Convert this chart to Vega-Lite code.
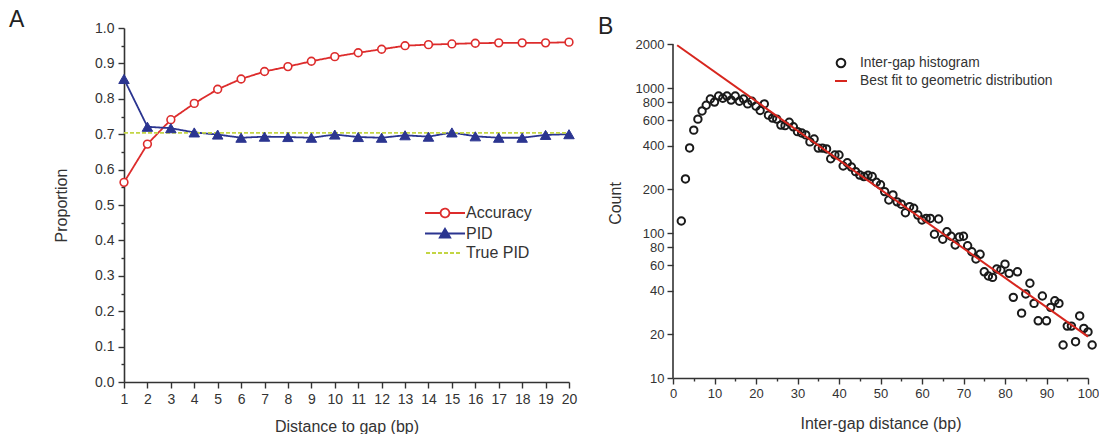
{
  "$schema": "https://vega.github.io/schema/vega-lite/v6.json",
  "padding": {"left": 9, "top": 9, "right": 0, "bottom": 0},
  "config": {
    "view": {"stroke": null},
    "font": "Liberation Sans",
    "axis": {"grid": false, "labelFlush": false, "domainColor": "#333", "domainWidth": 1.6, "tickColor": "#333", "tickWidth": 1.4, "labelFont": "Liberation Sans", "labelFontSize": 14, "labelColor": "#333", "titleFont": "Liberation Sans", "titleFontSize": 16, "titleFontWeight": "normal", "titleColor": "#333"},
    "legend": {"labelFont": "Liberation Sans", "labelColor": "#333", "title": null, "labelLimit": 400},
    "title": {"font": "Liberation Sans", "fontSize": 23, "fontWeight": "normal", "color": "#222", "anchor": "start", "frame": "group"},
    "concat": {"spacing": 21}
  },
  "resolve": {"scale": {"color": "independent", "strokeDash": "independent"}, "legend": {"color": "independent"}},
  "datasets": {
    "a": [
      {"d": 1, "series": "Accuracy", "value": 0.564}, {"d": 2, "series": "Accuracy", "value": 0.672}, {"d": 3, "series": "Accuracy", "value": 0.741}, {"d": 4, "series": "Accuracy", "value": 0.787}, {"d": 5, "series": "Accuracy", "value": 0.827}, {"d": 6, "series": "Accuracy", "value": 0.856}, {"d": 7, "series": "Accuracy", "value": 0.877}, {"d": 8, "series": "Accuracy", "value": 0.891}, {"d": 9, "series": "Accuracy", "value": 0.906}, {"d": 10, "series": "Accuracy", "value": 0.919}, {"d": 11, "series": "Accuracy", "value": 0.930}, {"d": 12, "series": "Accuracy", "value": 0.940}, {"d": 13, "series": "Accuracy", "value": 0.950}, {"d": 14, "series": "Accuracy", "value": 0.953}, {"d": 15, "series": "Accuracy", "value": 0.955}, {"d": 16, "series": "Accuracy", "value": 0.957}, {"d": 17, "series": "Accuracy", "value": 0.958}, {"d": 18, "series": "Accuracy", "value": 0.958}, {"d": 19, "series": "Accuracy", "value": 0.958}, {"d": 20, "series": "Accuracy", "value": 0.960},
      {"d": 1, "series": "PID", "value": 0.856}, {"d": 2, "series": "PID", "value": 0.721}, {"d": 3, "series": "PID", "value": 0.717}, {"d": 4, "series": "PID", "value": 0.705}, {"d": 5, "series": "PID", "value": 0.699}, {"d": 6, "series": "PID", "value": 0.690}, {"d": 7, "series": "PID", "value": 0.693}, {"d": 8, "series": "PID", "value": 0.692}, {"d": 9, "series": "PID", "value": 0.690}, {"d": 10, "series": "PID", "value": 0.699}, {"d": 11, "series": "PID", "value": 0.692}, {"d": 12, "series": "PID", "value": 0.690}, {"d": 13, "series": "PID", "value": 0.697}, {"d": 14, "series": "PID", "value": 0.693}, {"d": 15, "series": "PID", "value": 0.705}, {"d": 16, "series": "PID", "value": 0.694}, {"d": 17, "series": "PID", "value": 0.690}, {"d": 18, "series": "PID", "value": 0.690}, {"d": 19, "series": "PID", "value": 0.698}, {"d": 20, "series": "PID", "value": 0.700},
      {"d": 1, "series": "True PID", "value": 0.704}, {"d": 20, "series": "True PID", "value": 0.704}
    ],
    "hist": [
      {"x": 2, "count": 121}, {"x": 3, "count": 236}, {"x": 4, "count": 386}, {"x": 5, "count": 512}, {"x": 6, "count": 610}, {"x": 7, "count": 695}, {"x": 8, "count": 760}, {"x": 9, "count": 840}, {"x": 10, "count": 800}, {"x": 11, "count": 880},
      {"x": 12, "count": 850}, {"x": 13, "count": 880}, {"x": 14, "count": 825}, {"x": 15, "count": 880}, {"x": 16, "count": 810}, {"x": 17, "count": 840}, {"x": 18, "count": 777}, {"x": 19, "count": 810}, {"x": 20, "count": 750}, {"x": 21, "count": 700},
      {"x": 22, "count": 777}, {"x": 23, "count": 650}, {"x": 24, "count": 620}, {"x": 25, "count": 610}, {"x": 26, "count": 555}, {"x": 27, "count": 550}, {"x": 28, "count": 580}, {"x": 29, "count": 540}, {"x": 30, "count": 500}, {"x": 31, "count": 490},
      {"x": 32, "count": 475}, {"x": 33, "count": 425}, {"x": 34, "count": 445}, {"x": 35, "count": 385}, {"x": 36, "count": 385}, {"x": 37, "count": 380}, {"x": 38, "count": 325}, {"x": 39, "count": 345}, {"x": 40, "count": 345}, {"x": 41, "count": 290},
      {"x": 42, "count": 305}, {"x": 43, "count": 285}, {"x": 44, "count": 265}, {"x": 45, "count": 251}, {"x": 46, "count": 245}, {"x": 47, "count": 250}, {"x": 48, "count": 245}, {"x": 49, "count": 224}, {"x": 50, "count": 215}, {"x": 51, "count": 193},
      {"x": 52, "count": 169}, {"x": 53, "count": 183}, {"x": 54, "count": 164}, {"x": 55, "count": 158}, {"x": 56, "count": 138}, {"x": 57, "count": 152}, {"x": 58, "count": 148}, {"x": 59, "count": 133}, {"x": 60, "count": 123}, {"x": 61, "count": 126},
      {"x": 62, "count": 126}, {"x": 63, "count": 98}, {"x": 64, "count": 125}, {"x": 65, "count": 90.6}, {"x": 66, "count": 102}, {"x": 67, "count": 95}, {"x": 68, "count": 82.6}, {"x": 69, "count": 94}, {"x": 70, "count": 95}, {"x": 71, "count": 81.7},
      {"x": 72, "count": 74.3}, {"x": 73, "count": 66.2}, {"x": 74, "count": 71.3}, {"x": 75, "count": 54}, {"x": 76, "count": 50.5}, {"x": 77, "count": 49.4}, {"x": 78, "count": 56.4}, {"x": 79, "count": 55.6}, {"x": 80, "count": 61}, {"x": 81, "count": 52.7},
      {"x": 82, "count": 36}, {"x": 83, "count": 54}, {"x": 84, "count": 28}, {"x": 85, "count": 38}, {"x": 86, "count": 45}, {"x": 87, "count": 32.7}, {"x": 88, "count": 24.8}, {"x": 89, "count": 36.8}, {"x": 90, "count": 24.8}, {"x": 91, "count": 30.7},
      {"x": 92, "count": 34.1}, {"x": 93, "count": 32.7}, {"x": 94, "count": 16.9}, {"x": 95, "count": 22.8}, {"x": 96, "count": 22.8}, {"x": 97, "count": 17.8}, {"x": 98, "count": 26.8}, {"x": 99, "count": 22}, {"x": 100, "count": 20.8}, {"x": 101, "count": 16.9}
    ],
    "fit": [
      {"x": 1, "count": 1972, "series": "Best fit to geometric distribution"}, {"x": 100, "count": 19.3, "series": "Best fit to geometric distribution"}
    ],
    "yaxis": [
      {"x": 0, "lo": 10, "hi": 2000}
    ]
  },
  "hconcat": [
    {
      "width": 445,
      "height": 354,
      "title": {"text": "A", "dx": -115, "offset": -11},
      "data": {"name": "a"},
      "encoding": {
        "x": {"field": "d", "type": "quantitative", "scale": {"domain": [1, 20], "nice": false, "zero": false},
              "axis": {"title": "Distance to gap (bp)", "values": [1,2,3,4,5,6,7,8,9,10,11,12,13,14,15,16,17,18,19,20], "tickSize": 6, "labelPadding": 4, "titlePadding": 12}},
        "y": {"field": "value", "type": "quantitative", "scale": {"domain": [0, 1], "nice": false},
              "axis": {"title": "Proportion", "values": [0,0.05,0.1,0.15,0.2,0.25,0.3,0.35,0.4,0.45,0.5,0.55,0.6,0.65,0.7,0.75,0.8,0.85,0.9,0.95,1.0],
                       "labelExpr": "abs(datum.value*10 - round(datum.value*10)) < 0.001 ? format(datum.value, '.1f') : ''",
                       "tickSize": {"condition": {"test": "abs(datum.value*10 - round(datum.value*10)) > 0.001", "value": 3}, "value": 6},
                       "labelPadding": 4, "titlePadding": 25}}
      },
      "layer": [
        {
          "mark": {"type": "line", "strokeWidth": 1.8},
          "encoding": {
            "color": {"field": "series", "type": "nominal",
                      "scale": {"domain": ["Accuracy", "PID", "True PID"], "range": ["#dd2c2c", "#2b3590", "#c3d544"]},
                      "legend": {"orient": "none", "legendX": 300, "legendY": 174, "symbolSize": 400, "symbolStrokeWidth": 1.8, "labelFontSize": 16, "labelOffset": 20, "rowPadding": 0.5,
                                 "encode": {"symbols": {"update": {
                                   "shape": {"signal": "datum.value === 'Accuracy' ? 'M-1,0H0.56M1.44,0H3M1.44,0A0.44,0.44 0 1 1 0.56,0A0.44,0.44 0 1 1 1.44,0Z' : datum.value === 'PID' ? 'M-1,0H3M0.48,0.4L1,-0.48L1.52,0.4Z' : 'M-0.9,0H2.6'"},
                                   "fill": {"signal": "datum.value === 'Accuracy' ? 'white' : datum.value === 'PID' ? '#2b3590' : 'transparent'"}
                                 }}}}},
            "strokeDash": {"field": "series", "type": "nominal",
                           "scale": {"domain": ["Accuracy", "PID", "True PID"], "range": [[1, 0], [1, 0], [4, 2]]}}
          }
        },
        {
          "transform": [{"filter": "datum.series === 'Accuracy'"}],
          "mark": {"type": "point", "shape": "circle", "size": 60, "filled": true, "fill": "white", "stroke": "#dd2c2c", "strokeWidth": 1.6, "opacity": 1}
        },
        {
          "transform": [{"filter": "datum.series === 'PID'"}],
          "mark": {"type": "point", "shape": "triangle-up", "size": 110, "filled": true, "fill": "#2b3590", "stroke": "#2b3590", "strokeWidth": 1, "opacity": 1}
        }
      ]
    },
    {
      "width": 415,
      "height": 350,
      "title": {"text": "B", "dx": -75, "offset": -11},
      "encoding": {
        "x": {"field": "x", "type": "quantitative", "scale": {"domain": [0, 100], "nice": false},
              "axis": {"title": "Inter-gap distance (bp)", "labelFontSize": 13, "values": [0,5,10,15,20,25,30,35,40,45,50,55,60,65,70,75,80,85,90,95,100],
                       "labelExpr": "datum.value % 10 === 0 ? datum.label : ''",
                       "tickSize": {"condition": {"test": "datum.value % 10 !== 0", "value": 3}, "value": 6},
                       "labelPadding": 3, "titlePadding": 15}},
        "y": {"field": "count", "type": "quantitative", "scale": {"type": "log", "domain": [10, 2593.5], "nice": false},
              "axis": {"title": "Count", "labelFontSize": 13, "domain": false, "values": [10,20,40,60,80,100,200,400,600,800,1000,2000], "format": "d", "tickSize": 6, "labelPadding": 3, "titlePadding": 12}}
      },
      "layer": [
        {
          "data": {"name": "yaxis"},
          "mark": {"type": "rule", "color": "#333", "strokeWidth": 1.6},
          "encoding": {"y": {"field": "lo", "type": "quantitative"}, "y2": {"field": "hi"}}
        },
        {
          "data": {"name": "hist"},
          "mark": {"type": "point", "filled": false, "size": 55, "strokeWidth": 2, "opacity": 1, "color": "#1a1a1a"}
        },
        {
          "data": {"name": "fit"},
          "mark": {"type": "line", "strokeWidth": 2},
          "encoding": {
            "color": {"field": "series", "type": "nominal",
                      "scale": {"domain": ["Inter-gap histogram", "Best fit to geometric distribution"], "range": ["#1a1a1a", "#d7261e"]},
                      "legend": {"orient": "none", "legendX": 160, "legendY": 27, "symbolSize": 196, "symbolStrokeWidth": 2, "labelFontSize": 13.8, "labelOffset": 11, "rowPadding": 1,
                                 "encode": {"symbols": {"update": {
                                   "shape": {"signal": "datum.value === 'Inter-gap histogram' ? 'M0.62,0A0.62,0.62 0 1 1 -0.62,0A0.62,0.62 0 1 1 0.62,0Z' : 'M-0.86,0H0.86'"},
                                   "fill": {"value": "transparent"}
                                 }}}}}
          }
        }
      ]
    }
  ]
}
